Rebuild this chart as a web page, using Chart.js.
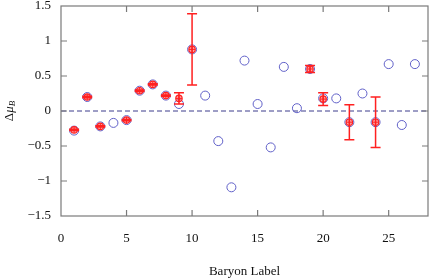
<!DOCTYPE html>
<html>
<head>
<meta charset="utf-8">
<script src="https://cdn.jsdelivr.net/npm/chart.js@4/dist/chart.umd.min.js"></script>
<style>
  html, body { margin: 0; padding: 0; background: #fff; }
  #wrap { width: 429px; height: 279px; }
</style>
</head>
<body>
<div id="wrap"><canvas id="chart" width="429" height="279"></canvas></div>
<script>
// baryon labels 1..27 and the model values (blue circles)
const baryonLabels = [1, 2, 3, 4, 5, 6, 7, 8, 9, 10, 11, 12, 13, 14, 15, 16, 17, 18, 19, 20, 21, 22, 23, 24, 25, 26, 27];
const modelDelta = [-0.28, 0.20, -0.22, -0.17, -0.13, 0.29, 0.38, 0.22, 0.10, 0.88, 0.22, -0.43, -1.09, 0.72, 0.10, -0.52, 0.63, 0.04, 0.60, 0.18, 0.18, -0.16, 0.25, -0.16, 0.67, -0.20, 0.67];

// measured points with error bars (red)
const measLabels = [1, 2, 3, 5, 6, 7, 8, 9, 10, 19, 20, 22, 24];
const measDelta = [-0.27, 0.20, -0.22, -0.13, 0.29, 0.38, 0.22, 0.18, 0.88, 0.60, 0.17, -0.16, -0.16];
const measErr = [0.01, 0.01, 0.01, 0.01, 0.01, 0.01, 0.01, 0.08, 0.51, 0.05, 0.09, 0.25, 0.36];

const xTicks = [0, 5, 10, 15, 20, 25];
const yTicks = [-1.5, -1, -0.5, 0, 0.5, 1, 1.5];

const SERIF = '"Liberation Serif", "DejaVu Serif", serif';

function fmt(v) {
    return String(v).replace('-', '\u2212');
}

const decorations = {
    id: 'decorations',
    beforeDatasetsDraw(chart) {
        const { ctx, chartArea: a, scales: { y } } = chart;
        // dashed zero line
        const y0 = y.getPixelForValue(0);
        ctx.save();
        ctx.strokeStyle = '#3c3c8c';
        ctx.lineWidth = 1;
        ctx.setLineDash([5, 3]);
        ctx.beginPath();
        ctx.moveTo(a.left, y0);
        ctx.lineTo(a.right, y0);
        ctx.stroke();
        ctx.restore();
    },
    afterDatasetsDraw(chart) {
        const { ctx, chartArea: a, scales: { x, y } } = chart;
        ctx.save();
        // error bars
        ctx.strokeStyle = '#ff2020';
        ctx.lineWidth = 1.5;
        measLabels.forEach((lab, i) => {
            const px = x.getPixelForValue(lab);
            const top = y.getPixelForValue(measDelta[i] + measErr[i]);
            const bot = y.getPixelForValue(measDelta[i] - measErr[i]);
            ctx.beginPath();
            ctx.moveTo(px, top); ctx.lineTo(px, bot);
            ctx.moveTo(px - 5, top); ctx.lineTo(px + 5, top);
            ctx.moveTo(px - 5, bot); ctx.lineTo(px + 5, bot);
            ctx.stroke();
        });

        // frame with inward ticks
        ctx.strokeStyle = '#7a7a7a';
        ctx.lineWidth = 1.2;
        ctx.strokeRect(a.left, a.top, a.right - a.left, a.bottom - a.top);
        ctx.beginPath();
        xTicks.forEach(v => {
            const px = x.getPixelForValue(v);
            if (px <= a.left + 1) return;
            ctx.moveTo(px, a.bottom); ctx.lineTo(px, a.bottom - 6);
            ctx.moveTo(px, a.top); ctx.lineTo(px, a.top + 6);
        });
        yTicks.forEach(v => {
            const py = y.getPixelForValue(v);
            if (py <= a.top + 1 || py >= a.bottom - 1) return;
            ctx.moveTo(a.left, py); ctx.lineTo(a.left + 6, py);
            ctx.moveTo(a.right, py); ctx.lineTo(a.right - 6, py);
        });
        ctx.stroke();

        // y axis title: Delta mu_B
        ctx.translate(10, y.getPixelForValue(0));
        ctx.rotate(-Math.PI / 2);
        ctx.fillStyle = '#111';
        ctx.textBaseline = 'middle';
        const parts = [
            { t: '\u0394', f: '13px ' + SERIF, dy: 0 },
            { t: '\u03bc', f: 'italic 13px ' + SERIF, dy: 0 },
            { t: 'B', f: 'italic 9px ' + SERIF, dy: 3 }
        ];
        let w = 0;
        parts.forEach(p => { ctx.font = p.f; w += ctx.measureText(p.t).width; });
        let cx = -w / 2;
        parts.forEach(p => {
            ctx.font = p.f;
            ctx.fillText(p.t, cx, p.dy);
            cx += ctx.measureText(p.t).width;
        });
        ctx.restore();
    }
};

new Chart(document.getElementById('chart'), {
    type: 'scatter',
    data: {
        datasets: [
            {
                label: 'measured cross',
                data: measLabels.map((lab, i) => ({ x: lab, y: measDelta[i] })),
                pointStyle: 'cross',
                pointRadius: 3,
                borderColor: '#ff2020',
                borderWidth: 1,
            },
            {
                label: 'measured',
                data: measLabels.map((lab, i) => ({ x: lab, y: measDelta[i] })),
                pointStyle: 'circle',
                pointRadius: 3.2,
                borderColor: '#ff2020',
                backgroundColor: 'rgba(255,90,90,0.55)',
                borderWidth: 1.2,
            },
            {
                label: 'model',
                data: baryonLabels.map((lab, i) => ({ x: lab, y: modelDelta[i] })),
                pointStyle: 'circle',
                pointRadius: 4.5,
                borderColor: '#6060c8',
                backgroundColor: 'rgba(0,0,0,0)',
                borderWidth: 1,
            }
        ]
    },
    options: {
        responsive: false,
        animation: false,
        events: [],
        layout: { autoPadding: false, padding: { top: 6, right: 1, left: 0, bottom: 0 } },
        plugins: {
            legend: { display: false },
            tooltip: { enabled: false },
        },
        scales: {
            x: {
                type: 'linear',
                min: 0,
                max: 28,
                afterBuildTicks: s => { s.ticks = xTicks.map(v => ({ value: v })); },
                afterFit: s => { s.height = 63; s.paddingLeft = 0; s.paddingRight = 0; },
                grid: { display: false, drawTicks: false },
                border: { display: false },
                ticks: {
                    padding: 15,
                    color: '#111',
                    font: { family: SERIF, size: 13 },
                    maxRotation: 0,
                    callback: v => fmt(v),
                },
                title: {
                    display: true,
                    text: 'Baryon Label',
                    color: '#111',
                    font: { family: SERIF, size: 13 },
                    padding: { top: 14, bottom: 0 },
                },
            },
            y: {
                min: -1.5,
                max: 1.5,
                afterBuildTicks: s => { s.ticks = yTicks.map(v => ({ value: v })); },
                afterFit: s => { s.width = 61; s.paddingTop = 0; s.paddingBottom = 0; },
                grid: { display: false, drawTicks: false },
                border: { display: false },
                ticks: {
                    padding: 10,
                    color: '#111',
                    font: { family: SERIF, size: 13 },
                    callback: v => fmt(v),
                },
            }
        }
    },
    plugins: [decorations]
});
</script>
</body>
</html>
